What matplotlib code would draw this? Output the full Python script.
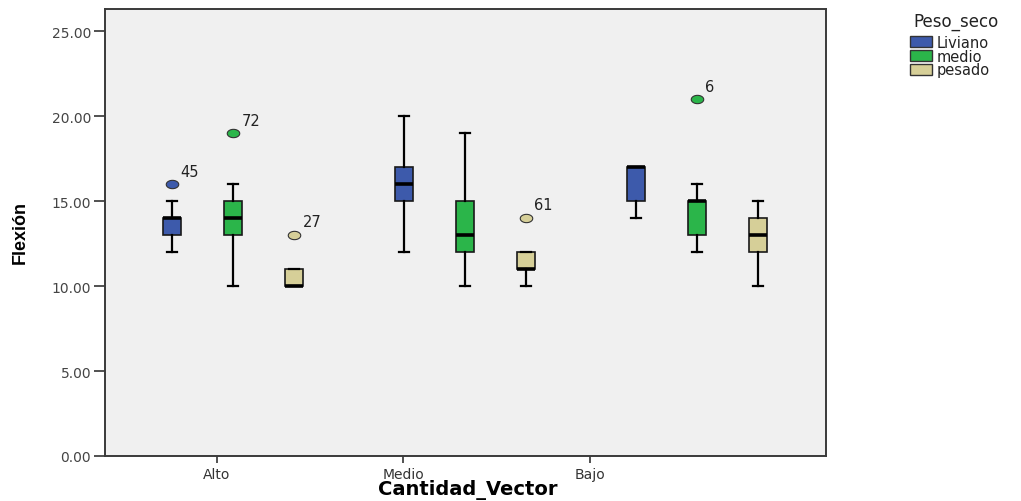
import matplotlib
matplotlib.use("Agg")
import matplotlib.pyplot as plt
from matplotlib.path import Path
from matplotlib.patches import Rectangle
import numpy as np

plt.rcParams['font.family'] = ['DejaVu Sans']

# ---- data ----
categories = ["Alto", "Medio", "Bajo"]
groups = ["Liviano", "medio", "pesado"]
colors = ["#3d5aab", "#2bb54a", "#d6cf98"]

# rows: group (Liviano, medio, pesado); cols: category (Alto, Medio, Bajo)
whislo = [[12, 12, 14], [10, 10, 12], [10, 10, 10]]
q1     = [[13, 15, 15], [13, 12, 13], [10, 11, 12]]
med    = [[14, 16, 17], [14, 13, 15], [10, 11, 13]]
q3     = [[14, 17, 17], [15, 15, 15], [11, 12, 14]]
whishi = [[15, 20, 17], [16, 19, 16], [11, 12, 15]]
outlier_vals = [[[16], [], []], [[19], [], [21]], [[13], [14], []]]
outlier_ids  = [[["45"], [], []], [["72"], [], ["6"]], [["27"], ["61"], []]]

yticks = [0, 5, 10, 15, 20, 25]

# ---- figure ----
fig = plt.figure(figsize=(10.21, 5.02), dpi=100)
fig.patch.set_facecolor("white")
ax = fig.add_axes([105/1021, 45/502, 721/1021, 447/502])
ax.set_facecolor("#f0f0f0")

# elliptic outlier marker
t = np.linspace(0, 2*np.pi, 40)
ell = Path(np.column_stack([1.5*np.cos(t), np.sin(t)]), closed=True)

centers = np.arange(len(categories))
offsets = [-0.263, 0.0, 0.263]
width = 0.075

for g in range(len(groups)):
    stats = []
    for c in range(len(categories)):
        stats.append(dict(med=med[g][c], q1=q1[g][c], q3=q3[g][c],
                          whislo=whislo[g][c], whishi=whishi[g][c], fliers=[]))
    pos = centers + offsets[g]
    ax.bxp(stats, positions=pos, widths=width, patch_artist=True,
           showfliers=False, manage_ticks=False,
           boxprops=dict(facecolor=colors[g], edgecolor="#1a1a1a", linewidth=1.2),
           medianprops=dict(color="black", linewidth=2.6, solid_capstyle="butt"),
           whiskerprops=dict(color="black", linewidth=1.6),
           capprops=dict(color="black", linewidth=1.6),
           capwidths=0.04)
    for c in range(len(categories)):
        for v, lab in zip(outlier_vals[g][c], outlier_ids[g][c]):
            ax.plot([pos[c]], [v], marker=ell, markersize=9, color=colors[g],
                    markeredgecolor="#333333", markeredgewidth=0.8, linestyle="none")
            ax.annotate(lab, (pos[c], v), xytext=(6, 4), textcoords="offset points",
                        fontsize=10.5, color="#222222", ha="left", va="bottom")

ax.set_xlim(-0.552, 2.556)
ax.set_ylim(0, 26.3)

tick_pos = [-0.069, 0.733, 1.539]
ax.set_xticks(tick_pos)
ax.set_xticklabels(categories)
ax.set_yticks(yticks)
ax.set_yticklabels([f"{v:.2f}" for v in yticks])
ax.tick_params(axis="y", colors="#333333", labelsize=10, length=8, width=1.2,
               labelcolor="#444444", pad=2)
ax.tick_params(axis="x", colors="#333333", labelsize=10, length=5, width=1.2,
               labelcolor="#333333", pad=3)
for s in ax.spines.values():
    s.set_color("#3a3a3a")
    s.set_linewidth(1.4)

ax.set_xlabel("Cantidad_Vector", fontsize=14, fontweight="bold")
ax.xaxis.label.set_va("center")
ax.xaxis.set_label_coords(0.503, -0.074)
ax.set_ylabel("Flexión", fontsize=13, fontweight="bold",
              family=["Liberation Sans Narrow", "Liberation Sans", "DejaVu Sans"])
ax.yaxis.label.set_va("center")
ax.yaxis.label.set_ha("center")
ax.yaxis.set_label_coords(-0.118, 0.503)

# ---- legend ----
fig.text(956/1021, 1 - 22/502, "Peso_seco", ha="center", va="center", fontsize=12,
         color="#222222")
rows_y = [43, 57, 71]
for g, yy in enumerate(rows_y):
    fig.patches.append(Rectangle((910/1021, 1 - (yy + 5)/502), 22/1021, 11/502,
                                 transform=fig.transFigure, facecolor=colors[g],
                                 edgecolor="#333333", linewidth=1.0))
    fig.text(937/1021, 1 - yy/502, groups[g], ha="left", va="center", fontsize=10.5,
             color="#222222")

fig.savefig("out.png", dpi=100)
